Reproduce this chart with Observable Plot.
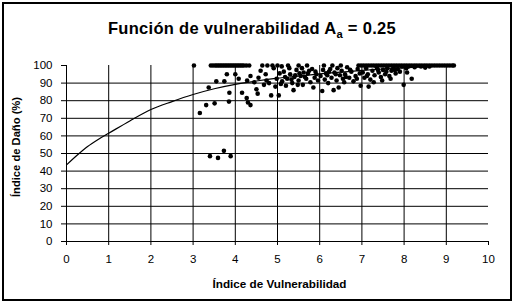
<!DOCTYPE html>
<html><head><meta charset="utf-8">
<script src="https://cdn.jsdelivr.net/npm/d3@7"></script>
<script src="https://cdn.jsdelivr.net/npm/@observablehq/plot@0.6"></script>
<style>
body{margin:0;background:#fff;}
#wrap{position:relative;width:516px;height:306px;font-family:"Liberation Sans",Arial,sans-serif;color:#000;background:#fff;overflow:hidden;}
#frame{position:absolute;left:2px;top:2px;width:510px;height:299px;border:2px solid #000;box-sizing:border-box;pointer-events:none;}
#title{position:absolute;left:0;width:504px;top:19px;text-align:center;font-weight:bold;font-size:16.5px;letter-spacing:0.3px;white-space:nowrap;}
#title sub{font-size:0.68em;vertical-align:baseline;position:relative;top:4px;}
.lab{position:absolute;font-weight:bold;white-space:nowrap;transform-origin:center;}
#xl{left:279.5px;top:283px;font-size:11.7px;transform:translate(-50%,-50%);}
#yl{left:16px;top:147px;font-size:11.2px;transform:translate(-50%,-50%) rotate(-90deg);}
#chart{position:absolute;left:0;top:0;}
</style>
</head><body>
<div id="wrap">
<div id="chart"></div>
<div id="title">Función de vulnerabilidad A<sub>a</sub> = 0.25</div>
<div class="lab" id="yl">Índice de Daño (%)</div>
<div class="lab" id="xl">Índice de Vulnerabilidad</div>
<div id="frame"></div>
</div>
<script>
const xTicks = [0,1,2,3,4,5,6,7,8,9,10];
const yTicks = [0,10,20,30,40,50,60,70,80,90,100];
const gridX = [1,2,3,4,5,6,7,8,9];
const gridY = [10,20,30,40,50,60,70,80,90];

const curveX = [0,0.25,0.5,0.75,1,1.5,2,2.5,3,3.5,4,4.5,5,5.5,6,6.5,7,7.5,8,8.5,9,9.2];
const curveY = [43.5,49,54,58,61.5,68.5,75,79.5,83.5,86.8,89.3,91.2,92.8,94,95.2,96.2,97.2,98,98.7,99.3,99.8,100];

const scatterX = [
 3.02,3.42,3.47,3.52,3.56,3.6,3.64,3.68,3.72,3.76,3.8,3.84,3.88,3.92,3.96,4.0,4.04,4.08,4.12,4.16,4.2,4.26,4.33,4.64,4.76,4.88,5.0,
 3.16,3.31,3.37,3.51,3.55,3.74,3.8,3.85,3.86,4.0,4.08,4.16,4.27,4.3,4.36,4.28,4.36,
 3.40,3.59,3.73,3.89,
 4.45,4.5,4.53,4.6,4.72,4.74,4.85,4.91,4.98,4.55,4.68,4.8,4.95,
 5.03,5.11,5.15,5.23,5.3,5.35,5.4,5.45,5.5,5.55,5.6,5.62,5.68,5.72,5.78,5.82,5.85,5.88,5.92,5.96,5.05,5.2,5.28,5.38,5.48,5.58,5.65,5.75,5.9,5.1,5.25,5.5,5.7,5.42,5.33,5.18,5.08,5.52,
 6.02,6.06,6.08,6.12,6.15,6.2,6.25,6.28,6.33,6.35,6.4,6.45,6.48,6.52,6.55,6.6,6.65,6.7,6.75,6.8,6.85,6.9,6.95,6.97,6.1,6.3,6.5,6.62,6.42,6.18,6.72,6.88,6.58,6.38,6.22,
 7.02,7.06,7.1,7.14,7.16,7.2,7.25,7.3,7.35,7.4,7.45,7.5,7.55,7.6,7.65,7.7,7.75,7.8,7.85,7.9,7.95,7.99,7.28,7.48,7.68,7.12,7.38,7.58,7.78,
 8.07,8.18,8.05,8.1,8.25,8.4,8.6,8.5,
 6.92,6.98,7.04,7.1,7.16,7.22,7.28,7.34,7.4,7.46,7.52,7.58,7.64,7.7,7.76,7.82,7.88,7.94,8.0,8.06,8.12,8.18,8.24,8.3,8.36,8.42,8.48,8.54,8.6,8.66,8.72,8.78,8.84,8.9,8.96,9.02,9.08,9.14,9.18
];
const scatterY = [
 100,100,100,100,100,100,100,100,100,100,100,100,100,100,100,100,100,100,100,100,100,100,100,100,100,100,100,
 73,77.5,87.5,78.5,91,91,95,79.5,84.5,95,92.5,84.5,81.5,79,77.5,91.5,94,
 48.5,47.5,51.5,48.5,
 90.5,86.5,84,97,95,91.5,83,98.5,92.5,93,89,90,88,
 83,91,96.5,92.5,95,90,93.5,97.5,91.5,94,89,96,92.5,95.5,90.5,98,87.5,93,95,91.5,95.5,88.5,98.5,86,89,98.5,93.5,97,96.5,99.5,100,100,100,94.5,92,93.5,89.5,95.5,
 94,85.5,97.5,92,95.5,90,98,93,86,96,91.5,87.5,94.5,97,92.5,95,99,93,96.5,91,94,98,95.5,88.5,100,100,100,93.5,98.5,94.5,97.5,92.5,90.5,95,96.5,
 96,93,98.5,95,88,92,97,94.5,99,96,93.5,97.5,95,98.5,94,97,99,95.5,98,96.5,99.5,89,90.5,91.5,92.5,94,97.5,96.5,97.5,
 96,92.5,98.5,99.5,99,99.5,99.5,98.8,
 100,100,100,100,100,100,100,100,100,100,100,100,100,100,100,100,100,100,100,100,100,100,100,100,100,100,100,100,100,100,100,100,100,100,100,100,100,100,100
];

const curve = curveX.map((x, i) => ({x, y: curveY[i]}));
const pts = scatterX.map((x, i) => ({x, y: scatterY[i]}));

const chart = Plot.plot({
  width: 516, height: 306,
  marginLeft: 66, marginRight: 28, marginTop: 65, marginBottom: 65,
  style: {fontFamily: '"Liberation Sans", Arial, sans-serif', fontSize: "11.5px", color: "#000", background: "transparent"},
  x: {domain: [0, 10]},
  y: {domain: [0, 100]},
  marks: [
    Plot.ruleY(gridY, {x1: 0, x2: 10, stroke: "#000", strokeWidth: 1}),
    Plot.ruleX(gridX, {y1: 0, y2: 100, stroke: "#000", strokeWidth: 1}),
    Plot.ruleY([0], {x1: 0, x2: 10, stroke: "#000", strokeWidth: 1}),
    Plot.ruleX([0], {y1: 0, y2: 100, stroke: "#000", strokeWidth: 1}),
    Plot.axisX({ticks: xTicks, tickSize: 4, tickPadding: 9, label: null, fontSize: 11.5}),
    Plot.axisY({ticks: yTicks, tickSize: 5, tickPadding: 9, label: null, fontSize: 11.5}),
    Plot.line(curve, {x: "x", y: "y", stroke: "#000", strokeWidth: 1.2, curve: "monotone-x"}),
    Plot.dot(pts, {x: "x", y: "y", r: 2.3, fill: "#000", stroke: "none"})
  ]
});
document.getElementById("chart").appendChild(chart);
</script>
</body></html>
